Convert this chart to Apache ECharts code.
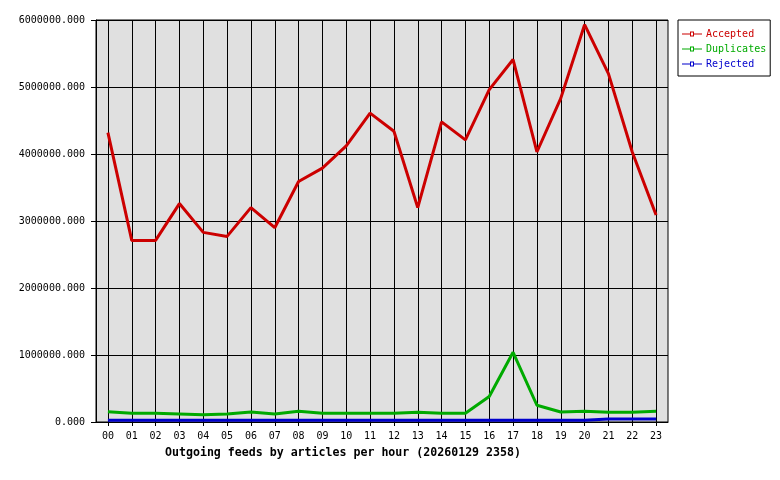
<!DOCTYPE html>
<html>
<head>
<meta charset="utf-8">
<script src="https://cdn.jsdelivr.net/npm/echarts@6/dist/echarts.min.js"></script>
<style>html,body{margin:0;padding:0;background:#fff}#c{width:780px;height:480px}</style>
</head>
<body>
<div id="c"></div>
<script>
const hours = ['00','01','02','03','04','05','06','07','08','09','10','11','12','13','14','15','16','17','18','19','20','21','22','23'];
const accepted = [4320000,2710000,2710000,3260000,2830000,2770000,3200000,2900000,3590000,3790000,4120000,4610000,4340000,3200000,4480000,4210000,4960000,5410000,4030000,4830000,5930000,5200000,4030000,3090000];
const duplicates = [154000,130000,130000,120000,110000,120000,150000,120000,160000,130000,130000,130000,130000,145000,130000,130000,380000,1040000,250000,150000,160000,145000,145000,160000];
const rejected = [25000,25000,25000,25000,25000,25000,25000,25000,25000,25000,25000,25000,25000,25000,25000,25000,25000,25000,25000,25000,25000,45000,45000,45000];
const yTicks = {min: 0, max: 6000000, interval: 1000000};
const titleText = 'Outgoing feeds by articles per hour (20260129 2358)';

const FONT = 'DejaVu Sans Mono';
const legendIcon = 'path://M0,2L8,2L8,3L0,3Z M8,0L12,0L12,5L8,5Z M9,1L9,4L11,4L11,1Z M12,2L20,2L20,3L12,3Z';
const chart = echarts.init(document.getElementById('c'), null, {renderer: 'canvas'});
chart.setOption({
  animation: false,
  backgroundColor: '#ffffff',
  title: {
    text: titleText, left: 160, top: 442,
    textStyle: {fontFamily: FONT, fontSize: 11.6, fontWeight: 'bold', color: '#000'}
  },
  legend: {
    orient: 'vertical', left: 678, top: 20,
    padding: [9, 4, 7, 4], itemGap: 5,
    itemWidth: 20, itemHeight: 5,
    icon: legendIcon,
    borderColor: '#000', borderWidth: 1, backgroundColor: '#fff',
    textStyle: {fontFamily: FONT, fontSize: 10, padding: [0, 0, 0, -1]},
    data: [
      {name: 'Accepted', textStyle: {color: '#cc0000'}},
      {name: 'Duplicates', textStyle: {color: '#00aa00'}},
      {name: 'Rejected', textStyle: {color: '#0000cc'}}
    ]
  },
  grid: {
    left: 96, right: 112, top: 20, bottom: 58,
    show: true, backgroundColor: '#e0e0e0', borderColor: '#000', borderWidth: 1
  },
  xAxis: {
    type: 'category', data: hours, boundaryGap: true,
    axisLine: {show: true, lineStyle: {color: '#000', width: 1}},
    axisTick: {show: true, alignWithLabel: true, length: 4, lineStyle: {color: '#000'}},
    splitLine: {show: true, alignWithLabel: true, lineStyle: {color: '#000', width: 1}},
    axisLabel: {fontFamily: FONT, fontSize: 10, color: '#000', margin: 9, interval: 0}
  },
  yAxis: {
    type: 'value', min: yTicks.min, max: yTicks.max, interval: yTicks.interval,
    axisLine: {show: true, lineStyle: {color: '#000', width: 1}},
    axisTick: {show: true, length: 5, lineStyle: {color: '#000'}},
    splitLine: {show: true, lineStyle: {color: '#000', width: 1}},
    axisLabel: {fontFamily: FONT, fontSize: 10, color: '#000', margin: 11,
      formatter: v => v.toFixed(3)}
  },
  series: [
    {name: 'Accepted', type: 'line', data: accepted, color: '#cc0000',
      symbol: 'none', lineStyle: {width: 3}},
    {name: 'Duplicates', type: 'line', data: duplicates, color: '#00aa00',
      symbol: 'none', lineStyle: {width: 3}},
    {name: 'Rejected', type: 'line', data: rejected, color: '#0000cc',
      symbol: 'none', lineStyle: {width: 3}}
  ]
});
</script>
</body>
</html>
